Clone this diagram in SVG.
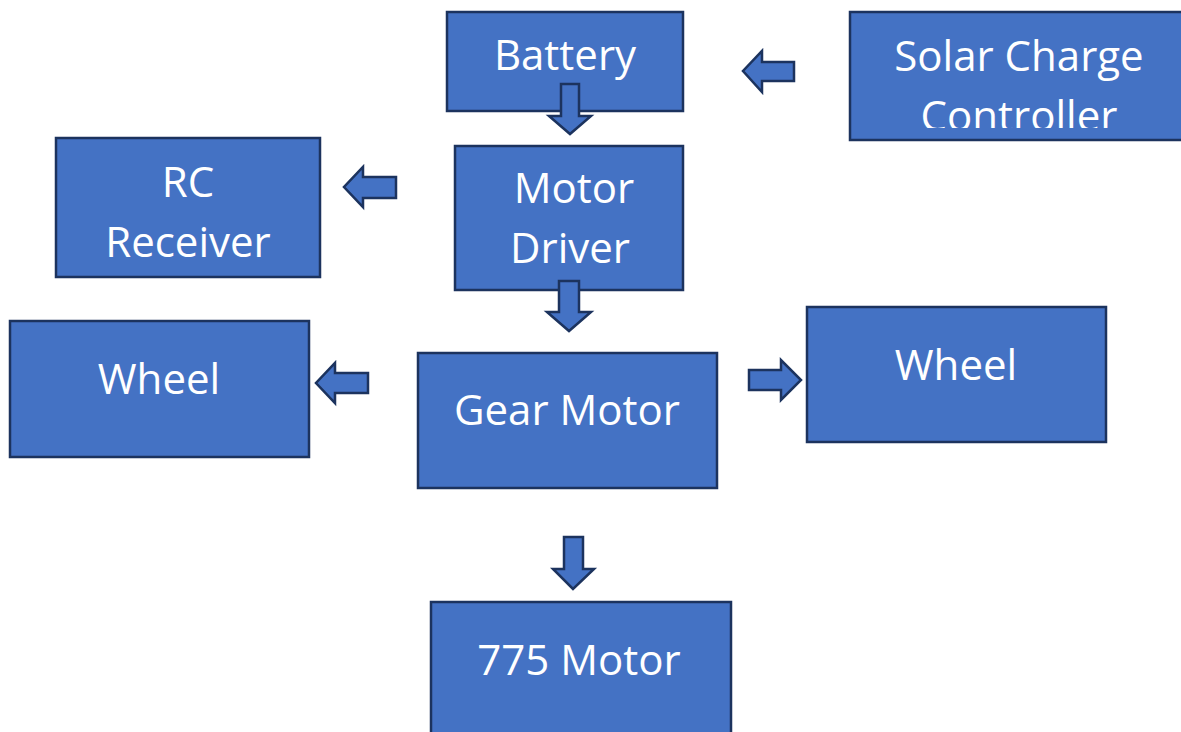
<svg xmlns="http://www.w3.org/2000/svg" width="1181" height="732" viewBox="0 0 1181 732">
<style>
.box{fill:#4472C4;stroke:#1C335E;stroke-width:2.5}
.arr{fill:#4472C4;stroke:#1C335E;stroke-width:2.5;stroke-linejoin:miter}
text{font-family:"Open Sans","Liberation Sans",sans-serif;font-size:42px;fill:#ffffff;text-anchor:middle}
</style>
<defs>
<clipPath id="solarClip"><rect x="850" y="12" width="340" height="116"/></clipPath>
</defs>
<rect width="1181" height="732" fill="#ffffff"/>
<g id="battery"><rect class="box" x="447" y="12" width="236" height="99"/><text x="565" y="70">Battery</text></g>
<g id="solar"><rect class="box" x="850" y="12" width="340" height="128"/><g clip-path="url(#solarClip)"><text x="1019" y="71">Solar Charge</text><text x="1019" y="131">Controller</text></g></g>
<g id="motor-driver"><rect class="box" x="455" y="146" width="228" height="144"/><text x="574" y="203">Motor</text><text x="570" y="263">Driver</text></g>
<g id="rc-receiver"><rect class="box" x="56" y="138" width="264" height="139"/><text x="188" y="197">RC</text><text x="188" y="257">Receiver</text></g>
<g id="wheel-left"><rect class="box" x="10" y="321" width="299" height="136"/><text x="159" y="394">Wheel</text></g>
<g id="gear-motor"><rect class="box" x="418" y="353" width="299" height="135"/><text x="567" y="425">Gear Motor</text></g>
<g id="wheel-right"><rect class="box" x="807" y="307" width="299" height="135"/><text x="956" y="380">Wheel</text></g>
<g id="motor-775"><rect class="box" x="431" y="602" width="300" height="140"/><text x="579" y="675">775 Motor</text></g>
<g id="connectors">
<polygon class="arr" points="561,84 579,84 579,116 591,116 570,134 549,116 561,116"/>
<polygon class="arr" points="794,62 762,62 762,51 743,71 762,92 762,81 794,81"/>
<polygon class="arr" points="396,177 363,177 363,167 344,187 363,207 363,198 396,198"/>
<polygon class="arr" points="559,281 579,281 579,312 591,312 569,331 547,312 559,312"/>
<polygon class="arr" points="368,373 335,373 335,363 316,383 335,403 335,393 368,393"/>
<polygon class="arr" points="749,370 781,370 781,360 801,380 781,400 781,390 749,390"/>
<polygon class="arr" points="564,537 583,537 583,569 594,569 573,589 553,569 564,569"/>
</g>
</svg>
